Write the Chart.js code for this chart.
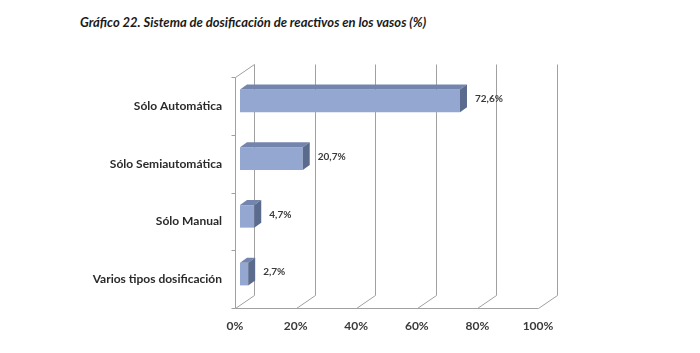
<!DOCTYPE html>
<html>
<head>
<meta charset="utf-8">
<script src="https://cdn.jsdelivr.net/npm/chart.js@4"></script>
<style>
  html, body { margin: 0; padding: 0; background: #fff; }
  #wrap { position: relative; width: 700px; height: 353px; }
  #title {
    position: absolute; left: 80px; top: 14px;
    font: italic bold 13px Lato, sans-serif; color: #1a1a1a; white-space: nowrap;
  }
  canvas { position: absolute; left: 0; top: 0; }
</style>
</head>
<body>
<div id="wrap">
  <div id="title">Gráfico 22. Sistema de dosificación de reactivos en los vasos (%)</div>
  <canvas id="c" width="700" height="353"></canvas>
</div>
<script>
const categories = ['Sólo Automática', 'Sólo Semiautomática', 'Sólo Manual', 'Varios tipos dosificación'];
const values     = [72.6, 20.7, 4.7, 2.7];
const valueLabels = ['72,6%', '20,7%', '4,7%', '2,7%'];

// depth offsets relative to the plane the bars are drawn in
const FRONT = { x: -5, y: 5 };
const BACK  = { x: 14, y: -8 };
const BAR_DEPTH = { x: 7, y: -5 };
const GRID = '#a0a0a0';

const walls = {
  id: 'walls',
  beforeDatasetsDraw(chart) {
    const { ctx, chartArea: a, scales: { x } } = chart;
    ctx.save();
    ctx.strokeStyle = GRID;
    ctx.lineWidth = 1;
    const line = (x1, y1, x2, y2) => {
      ctx.beginPath(); ctx.moveTo(x1 + 0.5, y1 + 0.5); ctx.lineTo(x2 + 0.5, y2 + 0.5); ctx.stroke();
    };
    const fb = a.bottom + FRONT.y, bb = a.bottom + BACK.y, bt = a.top + BACK.y, ft = a.top + FRONT.y;
    for (const t of x.ticks) {
      const px = Math.round(x.getPixelForValue(t.value));
      line(px + BACK.x, bt, px + BACK.x, bb);
      line(px + FRONT.x, fb, px + BACK.x, bb);
    }
    const x0 = Math.round(x.getPixelForValue(0)), x1 = Math.round(x.getPixelForValue(100));
    // floor front edge
    line(x0 + FRONT.x, fb, x1 + FRONT.x, fb);
    // left wall
    line(x0 + FRONT.x, ft, x0 + FRONT.x, fb);
    line(x0 + FRONT.x, ft, x0 + BACK.x, bt);
    const n = categories.length, step = (fb - ft) / n;
    for (let i = 0; i <= n; i++) {
      const yy = Math.round(ft + i * step);
      line(x0 + FRONT.x - 4, yy, x0 + FRONT.x, yy);
    }
    ctx.restore();
  },
  afterDatasetsDraw(chart) {
    const { ctx } = chart;
    const meta = chart.getDatasetMeta(0);
    ctx.save();
    meta.data.forEach((bar, i) => {
      const top = bar.y - bar.height / 2, bot = bar.y + bar.height / 2;
      const l = bar.base, r = bar.x;
      ctx.fillStyle = '#7485ad';
      ctx.beginPath();
      ctx.moveTo(l, top); ctx.lineTo(r, top);
      ctx.lineTo(r + BAR_DEPTH.x, top + BAR_DEPTH.y); ctx.lineTo(l + BAR_DEPTH.x, top + BAR_DEPTH.y);
      ctx.closePath(); ctx.fill();
      ctx.fillStyle = '#5b6b8e';
      ctx.beginPath();
      ctx.moveTo(r, top); ctx.lineTo(r + BAR_DEPTH.x, top + BAR_DEPTH.y);
      ctx.lineTo(r + BAR_DEPTH.x, bot + BAR_DEPTH.y); ctx.lineTo(r, bot);
      ctx.closePath(); ctx.fill();
      ctx.fillStyle = '#3a3a3a';
      ctx.font = 'bold 10px Lato, sans-serif';
      ctx.textBaseline = 'middle';
      ctx.fillText(valueLabels[i], r + BAR_DEPTH.x + 8, bar.y - 2);
    });
    ctx.restore();
  }
};

new Chart(document.getElementById('c'), {
  type: 'bar',
  data: {
    labels: categories,
    datasets: [{
      data: values,
      backgroundColor: '#94a7d1',
      borderWidth: 0,
      categoryPercentage: 1,
      barPercentage: 0.39,
    }],
  },
  options: {
    indexAxis: 'y',
    responsive: false,
    animation: false,
    layout: { padding: { top: 72, right: 157, bottom: 10, left: 0 } },
    scales: {
      x: {
        min: 0, max: 100,
        grid: { display: false, drawTicks: false },
        border: { display: false },
        ticks: {
          stepSize: 20, padding: 16, labelOffset: -5,
          color: '#3a3a3a', font: { family: 'Lato', weight: 'bold', size: 12 },
          callback: (v) => v + '%',
        },
        afterFit: (s) => { s.height = 40; },
      },
      y: {
        grid: { display: false, drawTicks: false },
        border: { display: false },
        ticks: {
          padding: 18, labelOffset: 5,
          color: '#2a2a2a', font: { family: 'Lato', weight: 'bold', size: 12 },
        },
        afterFit: (s) => { s.width = 240; },
      },
    },
    plugins: {
      legend: { display: false },
      tooltip: { enabled: false },
    },
  },
  plugins: [walls],
});
</script>
</body>
</html>
